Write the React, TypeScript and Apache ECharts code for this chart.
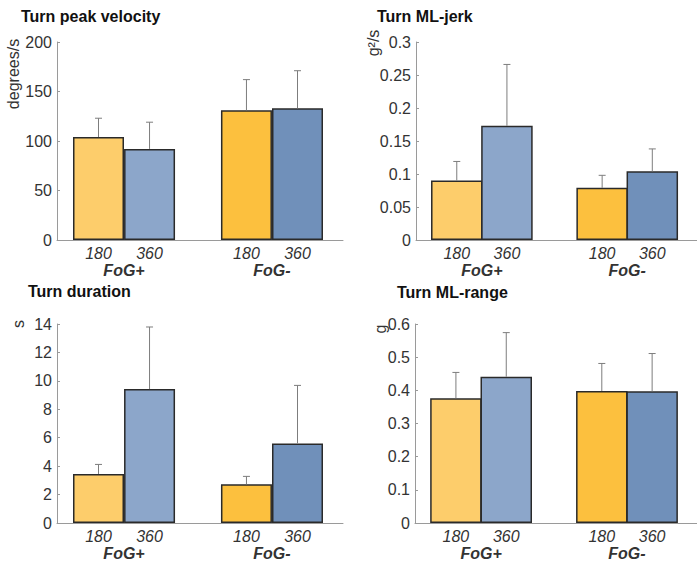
import React, { useEffect, useRef } from "react";
import * as echarts from "echarts";

// Order of bars: FoG+ 180, FoG+ 360, FoG- 180, FoG- 360
const groups = ["FoG+", "FoG-"];
const angles = ["180", "360"];

const velocityMean = [104, 92, 131, 133];
const velocitySD = [19, 27, 31, 38];

const jerkMean = [0.09, 0.173, 0.079, 0.104];
const jerkSD = [0.029, 0.093, 0.019, 0.034];

const durationMean = [3.45, 9.42, 2.72, 5.6];
const durationSD = [0.67, 4.37, 0.56, 4.08];

const rangeMean = [0.376, 0.441, 0.398, 0.397];
const rangeSD = [0.078, 0.133, 0.083, 0.114];

const barColors = ["#FDCD6B", "#8CA6CA", "#FCC03E", "#7090BA"];

const FONT = "'Liberation Sans', Arial, Helvetica, sans-serif";
const HALF = 0.1725; // half bar spacing in axis units
const XMIN = 0.547;
const XMAX = 2.48;

const barX = [1 - HALF, 1 + HALF, 2 - HALF, 2 + HALF];

interface Panel {
  title: string;
  titleX: number;
  titleY: number;
  unit: string;
  unitX: number;
  unitY: number;
  left: number;
  top: number;
  width: number;
  height: number;
  barWidth: number;
  max: number;
  interval: number;
  mean: number[];
  sd: number[];
}

const panels: Panel[] = [
  { title: "Turn peak velocity", titleX: 21, titleY: 16, unit: "degrees/s", unitX: 13, unitY: 74, left: 57, top: 42, width: 286, height: 198, barWidth: 51, max: 200, interval: 50, mean: velocityMean, sd: velocitySD },
  { title: "Turn ML-jerk", titleX: 377, titleY: 16, unit: "g²/s", unitX: 373, unitY: 43, left: 416, top: 42, width: 288, height: 198, barWidth: 51.5, max: 0.3, interval: 0.05, mean: jerkMean, sd: jerkSD },
  { title: "Turn duration", titleX: 28, titleY: 291, unit: "s", unitX: 18, unitY: 324, left: 57, top: 324, width: 286, height: 199, barWidth: 51, max: 14, interval: 2, mean: durationMean, sd: durationSD },
  { title: "Turn ML-range", titleX: 397, titleY: 292, unit: "g", unitX: 380, unitY: 329, left: 415, top: 324, width: 292, height: 199, barWidth: 51.5, max: 0.6, interval: 0.1, mean: rangeMean, sd: rangeSD },
];

function labelFor(v: number, positions: number[], labels: string[]) {
  for (let i = 0; i < positions.length; i++) {
    if (Math.abs(v - positions[i]) < 1e-6) return labels[i];
  }
  return "";
}

export default function App() {
  const ref = useRef<HTMLDivElement>(null);

  useEffect(() => {
    if (!ref.current) return;
    const chart = echarts.init(ref.current, null, { renderer: "svg" });

    const grid: any[] = [];
    const xAxis: any[] = [];
    const yAxis: any[] = [];
    const series: any[] = [];
    const graphic: any[] = [];

    const angleLabels = barX.map((_, i) => angles[i % 2]);

    panels.forEach((p, i) => {
      grid.push({ left: p.left, top: p.top, width: p.width, height: p.height, containLabel: false });
      xAxis.push({
        type: "value",
        gridIndex: i,
        min: XMIN,
        max: XMAX,
        axisLine: { show: true, lineStyle: { color: "#9a9a9a", width: 1 } },
        axisTick: { show: false },
        splitLine: { show: false },
        axisLabel: {
          customValues: barX,
          formatter: (v: number) => labelFor(v, barX, angleLabels),
          fontFamily: FONT,
          fontSize: 16,
          fontStyle: "italic",
          color: "#333",
          margin: 5,
        },
      });
      xAxis.push({
        type: "value",
        gridIndex: i,
        position: "bottom",
        offset: 17,
        min: XMIN,
        max: XMAX,
        axisLine: { show: false },
        axisTick: { show: false },
        splitLine: { show: false },
        axisLabel: {
          customValues: [1, 2],
          formatter: (v: number) => labelFor(v, [1, 2], groups),
          fontFamily: FONT,
          fontSize: 16,
          fontStyle: "italic",
          fontWeight: "bold",
          color: "#333",
          margin: 5,
        },
      });
      yAxis.push({
        type: "value",
        gridIndex: i,
        min: 0,
        max: p.max,
        interval: p.interval,
        axisLine: { show: true, lineStyle: { color: "#9a9a9a", width: 1 } },
        axisTick: { show: true, inside: true, length: 3, lineStyle: { color: "#9a9a9a" } },
        splitLine: { show: false },
        axisLabel: { fontFamily: FONT, fontSize: 16, color: "#333", margin: 5 },
      });

      series.push({
        type: "bar",
        xAxisIndex: 2 * i,
        yAxisIndex: i,
        barWidth: p.barWidth,
        data: p.mean.map((m, k) => ({
          value: [barX[k], m],
          itemStyle: { color: barColors[k], borderColor: "#2a2a2a", borderWidth: 1.5 },
        })),
      });
      series.push({
        type: "custom",
        xAxisIndex: 2 * i,
        yAxisIndex: i,
        encode: { x: 0, y: [1, 2] },
        data: p.mean.map((m, k) => [barX[k], m, m + p.sd[k]]),
        renderItem: (params: any, api: any) => {
          const x = api.value(0);
          const lo = api.coord([x, api.value(1)]);
          const hi = api.coord([x, api.value(2)]);
          const st = { stroke: "#7d7d7d", lineWidth: 1 };
          return {
            type: "group",
            children: [
              { type: "line", shape: { x1: lo[0], y1: lo[1], x2: hi[0], y2: hi[1] }, style: st },
              { type: "line", shape: { x1: hi[0] - 3.5, y1: hi[1], x2: hi[0] + 3.5, y2: hi[1] }, style: st },
            ],
          };
        },
        z: 5,
      });

      graphic.push({
        type: "text",
        x: p.titleX,
        y: p.titleY,
        style: { text: p.title, fontFamily: FONT, fontSize: 16, fontWeight: "bold", fill: "#111", align: "left", verticalAlign: "middle" },
      });
      graphic.push({
        type: "text",
        x: p.unitX,
        y: p.unitY,
        rotation: Math.PI / 2,
        style: { text: p.unit, fontFamily: FONT, fontSize: 16, fill: "#333", align: "center", verticalAlign: "middle" },
      });
    });

    chart.setOption({
      animation: false,
      backgroundColor: "#ffffff",
      grid,
      xAxis,
      yAxis,
      series,
      graphic,
    });

    return () => chart.dispose();
  }, []);

  return (
    <div
      ref={ref}
      style={{ position: "fixed", left: 0, top: 0, width: 697, height: 565, background: "#fff" }}
    />
  );
}
